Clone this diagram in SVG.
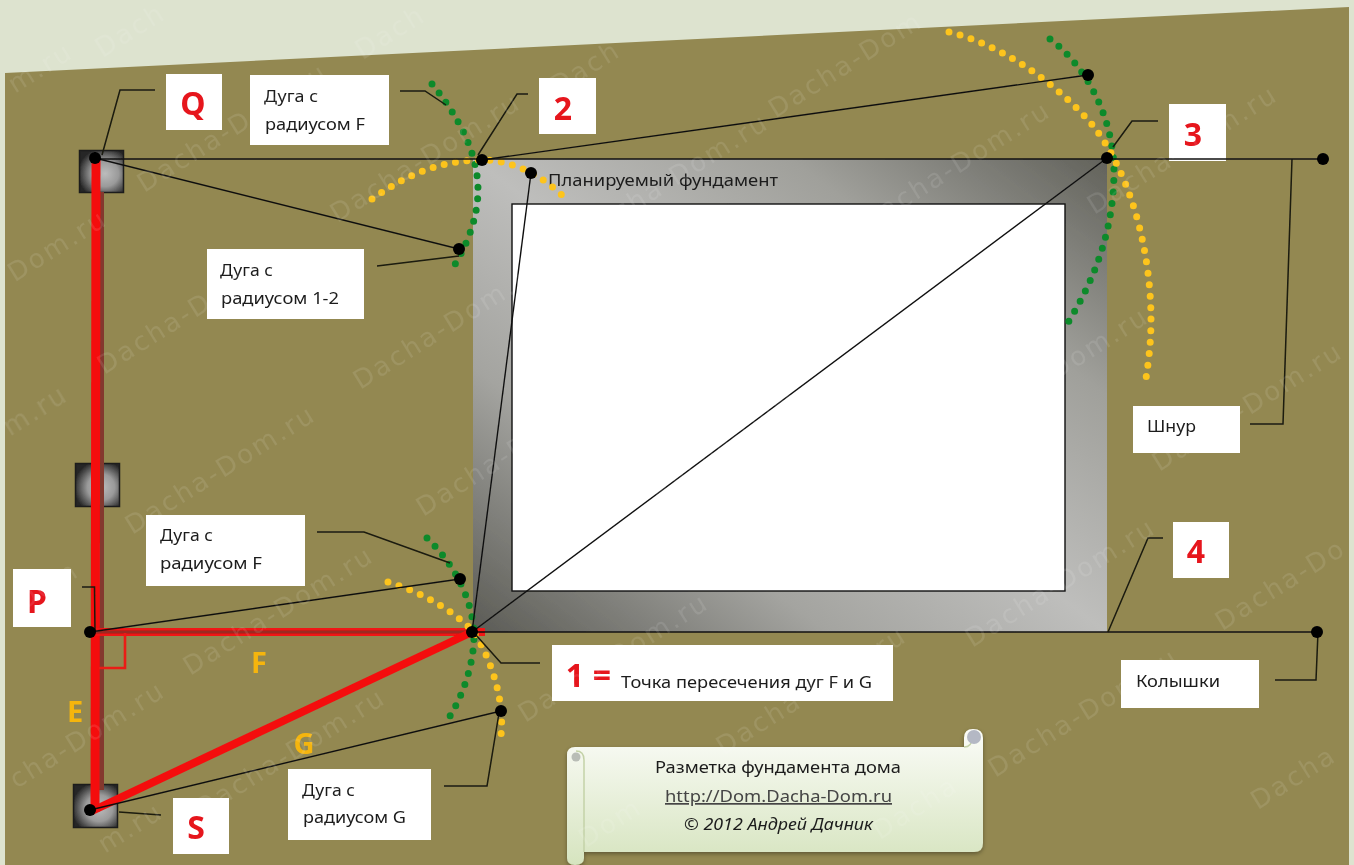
<svg xmlns="http://www.w3.org/2000/svg" width="1354" height="865" viewBox="0 0 1354 865">
<style>
.t{font-family:"Noto Sans","Liberation Sans",sans-serif;font-size:17px;fill:#1c1c1c}
.n{font-family:"Noto Sans","Liberation Sans",sans-serif;font-size:32px;font-weight:700;fill:#e6141e;text-anchor:middle}
.o{font-family:"Noto Sans","Liberation Sans",sans-serif;font-size:29px;font-weight:700;fill:#f5b50f;text-anchor:middle}
.box{fill:#fff}
.thin{fill:none;stroke:#111;stroke-width:1.400}
.lead{fill:none;stroke:#1a1a10;stroke-width:1.500}
.dot{fill:#000}
.gr{fill:none;stroke:#0e8a2c;stroke-width:7;stroke-linecap:round;stroke-dasharray:0 11.500}
.ye{fill:none;stroke:#fdc41e;stroke-width:7;stroke-linecap:round;stroke-dasharray:0 11.500}
.wm{font-family:"DejaVu Sans",sans-serif;font-size:26px;fill:#fff;fill-opacity:.1;text-anchor:middle;letter-spacing:2.500px}
.stake{fill:url(#st);stroke:#1c1c1c;stroke-width:1.500}
</style>
<defs>
<linearGradient id="fr" x1="0" y1="1" x2="1" y2="0">
<stop offset="0" stop-color="#5b5b55"/><stop offset=".28" stop-color="#a4a4a0"/><stop offset=".5" stop-color="#bebebc"/><stop offset=".75" stop-color="#a0a09b"/><stop offset="1" stop-color="#62625b"/>
</linearGradient>
<radialGradient id="st" cx=".58" cy=".55" r=".62">
<stop offset="0" stop-color="#bcbcbc"/><stop offset=".5" stop-color="#9a9a9a"/><stop offset="1" stop-color="#262626"/>
</radialGradient>
<linearGradient id="sc" x1="0" y1="0" x2="0" y2="1">
<stop offset="0" stop-color="#fbfcf8"/><stop offset="1" stop-color="#d6e4bf"/>
</linearGradient>
<filter id="sh" x="-5%" y="-5%" width="110%" height="115%"><feDropShadow dx="0" dy="2" stdDeviation="2" flood-color="#000" flood-opacity=".35"/></filter>
<filter id="soft" x="0" y="0" width="100%" height="100%"><feGaussianBlur stdDeviation=".55"/></filter>
</defs>
<g filter="url(#soft)">
<rect width="1354" height="865" fill="#dde3cf"/>
<polygon points="5,73 1349,7 1349,865 5,865" fill="#938851"/>

<g id="foundation">
<rect x="473" y="159" width="634" height="473" fill="url(#fr)"/>
<rect x="512" y="204" width="553" height="387" fill="#fff" stroke="#111" stroke-width="1.400"/>
<text class="t" x="548" y="186" textLength="230" lengthAdjust="spacingAndGlyphs">Планируемый фундамент</text>
</g>

<g id="stake-q"><rect class="stake" x="79.500" y="150.500" width="44" height="42"/></g>
<g id="stake-mid"><rect class="stake" x="75.500" y="463.500" width="44" height="43"/></g>
<g id="stake-s"><rect class="stake" x="73.500" y="784.500" width="44" height="43"/></g>

<g id="labels">
<g id="label-q"><rect class="box" x="166" y="74" width="56" height="56"/><text class="n" x="193" y="115">Q</text></g>
<g id="label-arc-f-top"><rect class="box" x="250" y="75" width="139" height="70"/><text class="t" x="264" y="102" textLength="54" lengthAdjust="spacingAndGlyphs">Дуга с</text><text class="t" x="265" y="130" textLength="100" lengthAdjust="spacingAndGlyphs">радиусом F</text></g>
<g id="label-2"><rect class="box" x="539" y="78" width="57" height="56"/><text class="n" x="563" y="120">2</text></g>
<g id="label-arc-12"><rect class="box" x="207" y="249" width="157" height="70"/><text class="t" x="220" y="276" textLength="53" lengthAdjust="spacingAndGlyphs">Дуга с</text><text class="t" x="221" y="304" textLength="118" lengthAdjust="spacingAndGlyphs">радиусом 1-2</text></g>
<g id="label-3"><rect class="box" x="1169" y="104" width="57" height="57"/><text class="n" x="1193" y="146">3</text></g>
<g id="label-cord"><rect class="box" x="1133" y="406" width="107" height="47"/><text class="t" x="1147" y="432" textLength="49" lengthAdjust="spacingAndGlyphs">Шнур</text></g>
<g id="label-arc-f-low"><rect class="box" x="146" y="515" width="159" height="71"/><text class="t" x="160" y="541" textLength="53" lengthAdjust="spacingAndGlyphs">Дуга с</text><text class="t" x="160" y="569" textLength="102" lengthAdjust="spacingAndGlyphs">радиусом F</text></g>
<g id="label-4"><rect class="box" x="1173" y="522" width="56" height="56"/><text class="n" x="1196" y="563">4</text></g>
<g id="label-p"><rect class="box" x="13" y="569" width="58" height="58"/><text class="n" x="37" y="613">P</text></g>
<g id="label-1"><rect class="box" x="552" y="645" width="341" height="56"/><text class="n" x="575" y="687">1</text><text class="n" x="602" y="687">=</text><text class="t" x="621" y="688" textLength="251" lengthAdjust="spacingAndGlyphs">Точка пересечения дуг F и G</text></g>
<g id="label-stakes"><rect class="box" x="1121" y="660" width="138" height="48"/><text class="t" x="1136" y="687" textLength="84" lengthAdjust="spacingAndGlyphs">Колышки</text></g>
<g id="label-arc-g"><rect class="box" x="288" y="769" width="143" height="71"/><text class="t" x="302" y="796" textLength="53" lengthAdjust="spacingAndGlyphs">Дуга с</text><text class="t" x="303" y="823" textLength="103" lengthAdjust="spacingAndGlyphs">радиусом G</text></g>
<g id="label-s"><rect class="box" x="173" y="798" width="56" height="56"/><text class="n" x="196" y="839">S</text></g>
</g>

<g id="connectors">
<path d="M101 192V790" stroke="#84382e" stroke-width="6" fill="none"/>
<path d="M96 158L95 812" stroke="#f40f0f" stroke-width="9" fill="none"/>
<path d="M96 632H485" stroke="#f01212" stroke-width="8" fill="none"/>
<path d="M96 632H472" stroke="#9c2a20" stroke-width="3" fill="none"/>
<path d="M92 811L472 632" stroke="#f40f0f" stroke-width="8" fill="none"/>
<path d="M99 668H125V633" stroke="#ea1c14" stroke-width="2.600" fill="none"/>

<path class="gr" d="M432 84C455 112 478 150 478 190C478 220 465 250 450 272"/>
<path class="ye" d="M372 199C410 172 445 160 482 160C515 160 545 178 565 198"/>
<path class="gr" d="M1050 39C1085 65 1113 115 1114 170C1114 230 1095 280 1064 329"/>
<path class="ye" d="M949 32C1000 45 1050 78 1090 122C1130 170 1151 250 1151 320C1151 345 1148 365 1145 385"/>
<path class="gr" d="M427 538C455 565 473 600 474 635C474 665 462 700 444 725"/>
<path class="ye" d="M388 582C420 592 450 608 472 630C490 655 505 700 501 735"/>

<path class="thin" d="M95 159H1323"/>
<path class="thin" d="M472 632H1317"/>
<path class="thin" d="M95 158L459 249"/>
<path class="thin" d="M482 160L1088 75"/>
<path class="thin" d="M472 632L1107 158"/>
<path class="thin" d="M472 632L531 173"/>
<path class="thin" d="M90 632L460 579"/>
<path class="thin" d="M90 810L501 711"/>

<path class="lead" d="M155 90H120L102 155"/>
<path class="lead" d="M400 91H425L446 105"/>
<path class="lead" d="M528 94H517L478 155"/>
<path class="lead" d="M377 266L459 256"/>
<path class="lead" d="M1158 121H1132L1113 147"/>
<path class="lead" d="M1250 424H1283L1292 159"/>
<path class="lead" d="M1163 538H1148L1108 632"/>
<path class="lead" d="M1275 680H1316L1318 632"/>
<path class="lead" d="M540 663H501L476 635"/>
<path class="lead" d="M444 786H487L499 713"/>
<path class="lead" d="M317 532H364L450 563"/>
<path class="lead" d="M82 587H94.500L95 632"/>
<path class="lead" d="M119 812L161 815"/>

<circle class="dot" cx="95" cy="158" r="6"/>
<circle class="dot" cx="482" cy="160" r="6"/>
<circle class="dot" cx="1088" cy="75" r="6"/>
<circle class="dot" cx="1107" cy="158" r="6"/>
<circle class="dot" cx="1323" cy="159" r="6"/>
<circle class="dot" cx="531" cy="173" r="6"/>
<circle class="dot" cx="459" cy="249" r="6"/>
<circle class="dot" cx="460" cy="579" r="6"/>
<circle class="dot" cx="472" cy="632" r="6"/>
<circle class="dot" cx="90" cy="632" r="6"/>
<circle class="dot" cx="1317" cy="632" r="6"/>
<circle class="dot" cx="501" cy="711" r="6"/>
<circle class="dot" cx="90" cy="810" r="6"/>
</g>

<g id="side-letters">
<text class="o" x="75" y="722">E</text>
<text class="o" x="259" y="673">F</text>
<text class="o" x="304" y="754">G</text>
</g>

<g id="scroll">
<path filter="url(#sh)" fill="url(#sc)" d="M575 747H964V738Q964 729 973 729Q983 729 983 738V843Q983 852 974 852H584V858Q584 865 575 865Q567 865 567 858V755Q567 747 575 747Z"/>
<path d="M584 852V760Q584 751 576 751" fill="none" stroke="#c4d2a8" stroke-width="1.500"/>
<path d="M964 747Q972 747 972 738" fill="none" stroke="#c4d2a8" stroke-width="1.500"/>
<circle cx="576" cy="757" r="4.500" fill="#b9bdb6"/>
<circle cx="974" cy="737" r="7" fill="#b4b8c4"/>
<text class="t" x="655" y="773" textLength="246" lengthAdjust="spacingAndGlyphs">Разметка фундамента дома</text>
<text class="t" x="665" y="802" textLength="227" lengthAdjust="spacingAndGlyphs" style="fill:#444" text-decoration="underline">http://Dom.Dacha-Dom.ru</text>
<text class="t" x="684" y="830" textLength="189" lengthAdjust="spacingAndGlyphs" font-style="italic">© 2012 Андрей Дачник</text>
</g>

<g id="watermarks">
<text class="wm" transform="translate(850 72) rotate(-32)">Dacha-Dom</text>
<text class="wm" transform="translate(960 173) rotate(-32)">Dacha-Dom.ru</text>
<text class="wm" transform="translate(678 185) rotate(-32)">Dacha-Dom.ru</text>
<text class="wm" transform="translate(430 165) rotate(-32)">Dacha-Dom.ru</text>
<text class="wm" transform="translate(237 135) rotate(-32)">Dacha-Dom.ru</text>
<text class="wm" transform="translate(1187 157) rotate(-32)">Dacha-Dom.ru</text>
<text class="wm" transform="translate(197 317) rotate(-32)">Dacha-Dom.ru</text>
<text class="wm" transform="translate(453 332) rotate(-32)">Dacha-Dom.ru</text>
<text class="wm" transform="translate(738 314) rotate(-32)">Dacha-Dom.ru</text>
<text class="wm" transform="translate(963 302) rotate(-32)">Dacha-Dom.ru</text>
<text class="wm" transform="translate(225 477) rotate(-32)">Dacha-Dom.ru</text>
<text class="wm" transform="translate(516 459) rotate(-32)">Dacha-Dom.ru</text>
<text class="wm" transform="translate(747 438) rotate(-32)">Dacha-Dom.ru</text>
<text class="wm" transform="translate(1058 379) rotate(-32)">Dacha-Dom.ru</text>
<text class="wm" transform="translate(1252 414) rotate(-32)">Dacha-Dom.ru</text>
<text class="wm" transform="translate(838 521) rotate(-32)">Dacha-Dom.ru</text>
<text class="wm" transform="translate(283 618) rotate(-32)">Dacha-Dom.ru</text>
<text class="wm" transform="translate(618 665) rotate(-32)">Dacha-Dom.ru</text>
<text class="wm" transform="translate(1065 590) rotate(-32)">Dacha-Dom.ru</text>
<text class="wm" transform="translate(816 698) rotate(-32)">Dacha-Dom.ru</text>
<text class="wm" transform="translate(1088 720) rotate(-32)">Dacha-Dom.ru</text>
<text class="wm" transform="translate(295 760) rotate(-32)">Dacha-Dom.ru</text>
<text class="wm" transform="translate(1285 592) rotate(-32)">Dacha-Do</text>
<text class="wm" transform="translate(92 742) rotate(-32)">cha-Dom.ru</text>
<text class="wm" transform="translate(1298 785) rotate(-32)">Dacha</text>
<text class="wm" transform="translate(62 253) rotate(-32)">Dom.ru</text>
<text class="wm" transform="translate(40 418) rotate(-32)">m.ru</text>
<text class="wm" transform="translate(45 75) rotate(-32)">m.ru</text>
<text class="wm" transform="translate(52 593) rotate(-32)">Dom</text>
<text class="wm" transform="translate(615 830) rotate(-32)">Dom</text>
<text class="wm" transform="translate(920 815) rotate(-32)">Dacha</text>
<text class="wm" transform="translate(135 835) rotate(-32)">m.ru</text>
<text class="wm" transform="translate(135 38) rotate(-32)">Dach</text>
<text class="wm" transform="translate(395 40) rotate(-32)">Dach</text>
<text class="wm" transform="translate(590 75) rotate(-32)">Dach</text>
</g>
</g>
</svg>
